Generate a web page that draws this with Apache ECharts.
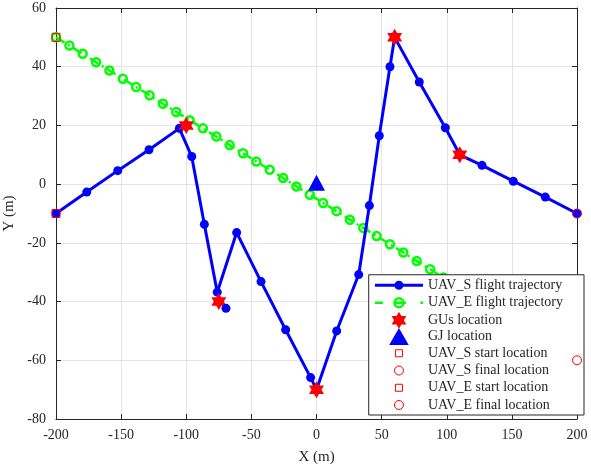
<!DOCTYPE html>
<html><head><meta charset="utf-8">
<script src="https://cdn.jsdelivr.net/npm/echarts@6/dist/echarts.min.js"></script>
<style>html,body{margin:0;padding:0;background:#fff}#c{width:591px;height:470px}</style>
</head><body><div id="c"></div>
<script>
// ---- data ----
const xRange = [-200, 200, 50];
const yRange = [-80, 60, 20];
const uavS = [[-200,-10],[-176.4,-2.7],[-152.6,4.6],[-128.6,11.7],[-105.3,19.0],[-95.8,9.4],
  [-86.1,-13.7],[-76.2,-36.8],[-61.3,-16.5],[-42.6,-33.2],[-23.7,-49.6],[-4.5,-65.9],[0,-70],
  [15.5,-50],[32.4,-30.8],[40.6,-7.3],[48.2,16.5],[56.4,40],[60,50],[78.9,34.8],[98.9,19.2],
  [110,10],[127.1,6.4],[151.1,1.0],[175.7,-4.4],[200,-10]];
const uavSExtra = [[-69.5,-42.3]];
const uavEX = [-200,-189.7,-179.5,-169.2,-159.0,-148.7,-138.5,-128.2,-117.9,-107.7,-97.4,-87.2,
  -76.9,-66.7,-56.4,-46.2,-35.9,-25.6,-15.4,-5.1,5.1,15.4,25.6,35.9,46.2,56.4,66.7,76.9,87.2,
  97.4,107.7,117.9,128.2,138.5,148.7,159.0,169.2,179.5,189.7,200];
const uavEY = [50,47.2,44.4,41.5,38.7,35.9,33.1,30.3,27.4,24.6,21.8,19.0,16.2,13.3,10.5,7.7,4.9,
  2.1,-0.8,-3.6,-6.4,-9.2,-12.1,-14.9,-17.7,-20.5,-23.3,-26.2,-29.0,-31.8,-34.6,-37.4,-40.3,
  -43.1,-45.9,-48.7,-51.5,-54.4,-57.2,-60];
const gus = [[-100,20],[-75,-40],[0,-70],[60,50],[110,10]];
const gj = [[0,0.5]];
const uavSStart = [[-200,-10]];
const uavSFinal = [[200,-10]];
const uavEStart = [[-200,50]];
const uavEFinal = [[200,-60]];
const names = ['UAV_S flight trajectory','UAV_E flight trajectory','GUs location','GJ location',
  'UAV_S start location','UAV_S final location','UAV_E start location','UAV_E final location'];

// ---- styling ----
const FONT = 'Liberation Serif';
const AX = '#262626';
const BLUE = '#0000ff', GREEN = '#00ff00', RED = '#ff0000', CLEAR = 'rgba(0,0,0,0)';
const hexagram = 'path://M0,-10 L2.887,-5 L8.66,-5 L5.774,0 L8.66,5 L2.887,5 L0,10 L-2.887,5 L-8.66,5 L-5.774,0 L-8.66,-5 L-2.887,-5 Z';
const iconBlue = 'path://M0,0 M48,17 M0,7 L48,7 L48,10 L0,10 Z M28.5,8.5 A4.5,4.5 0 1 1 19.5,8.5 A4.5,4.5 0 1 1 28.5,8.5 Z';
const iconGreen = 'path://M0,0 M48,17 M0,8.5 L8,8.5 M19,8.5 L31,8.5 M45.5,8.5 L48,8.5 M28.5,8.5 A4.5,4.5 0 1 1 19.5,8.5 A4.5,4.5 0 1 1 28.5,8.5';
const iconTri = 'path://M0,0 L9.5,16.5 L-9.5,16.5 Z';
const smallSquare = 'path://M0,0 M17,17 M5,5 L12,5 L12,12 L5,12 Z';
const smallCircle = 'path://M0,0 M17,17 M13,8.5 A4.5,4.5 0 1 1 4,8.5 A4.5,4.5 0 1 1 13,8.5 Z';
const uavE = uavEX.map((x, i) => [x, uavEY[i]]);

function xAxisCfg(pos, labels) {
  return {type:'value', position:pos, min:xRange[0], max:xRange[1], interval:xRange[2],
    axisLine:{onZero:false, lineStyle:{color:AX, width:1}},
    axisTick:{inside:true, length:5, lineStyle:{color:AX}},
    axisLabel:{show:labels, color:AX, fontFamily:FONT, fontSize:14, margin:9},
    splitLine:{show:labels, lineStyle:{color:'#e4e4e4', width:1}},
    name: labels ? 'X (m)' : '', nameLocation:'middle', nameGap:31,
    nameTextStyle:{color:AX, fontFamily:FONT, fontSize:15}};
}
function yAxisCfg(pos, labels) {
  return {type:'value', position:pos, min:yRange[0], max:yRange[1], interval:yRange[2],
    axisLine:{onZero:false, lineStyle:{color:AX, width:1}},
    axisTick:{inside:true, length:5, lineStyle:{color:AX}},
    axisLabel:{show:labels, color:AX, fontFamily:FONT, fontSize:14, margin:10},
    splitLine:{show:labels, lineStyle:{color:'#e4e4e4', width:1}},
    name: labels ? 'Y (m)' : '', nameLocation:'middle', nameGap:31, nameRotate:90,
    nameTextStyle:{color:AX, fontFamily:FONT, fontSize:15}};
}
function hollow(c, w) { return {color:CLEAR, borderColor:c, borderWidth:w, opacity:1}; }

const chart = echarts.init(document.getElementById('c'), null, {renderer:'canvas'});
chart.setOption({
  animation:false,
  backgroundColor:'#fff',
  grid:{left:56, right:14, top:8, bottom:51, containLabel:false, outerBoundsMode:'none'},
  xAxis:[xAxisCfg('bottom', true), xAxisCfg('top', false)],
  yAxis:[yAxisCfg('left', true), yAxisCfg('right', false)],
  legend:{
    orient:'vertical', right:7, bottom:55, itemWidth:48, itemHeight:17, itemGap:-0.75,
    padding:[2,21,1,5], backgroundColor:'#fff', borderColor:AX, borderWidth:1,
    textStyle:{color:AX, fontFamily:FONT, fontSize:14, lineHeight:17}, selectedMode:false,
    data:[
      {name:names[0], icon:iconBlue, itemStyle:{color:BLUE, borderWidth:0}},
      {name:names[1], icon:iconGreen, itemStyle:hollow(GREEN, 2.5)},
      {name:names[2], icon:hexagram, itemStyle:{color:RED, borderWidth:0}},
      {name:names[3], icon:iconTri, itemStyle:{color:BLUE, borderWidth:0}},
      {name:names[4], icon:smallSquare, itemStyle:hollow(RED, 1)},
      {name:names[5], icon:smallCircle, itemStyle:hollow(RED, 1)},
      {name:names[6], icon:smallSquare, itemStyle:hollow(RED, 1)},
      {name:names[7], icon:smallCircle, itemStyle:hollow(RED, 1)}
    ]
  },
  series:[
    {name:names[1], type:'line', data:uavE, z:2, symbol:'circle', symbolSize:8,
      lineStyle:{color:GREEN, width:2.5, type:[10,4,2,4]},
      itemStyle:hollow(GREEN, 2.5)},
    {name:names[0], type:'line', data:uavS, z:3, symbol:'circle', symbolSize:9,
      lineStyle:{color:BLUE, width:3}, itemStyle:{color:BLUE, opacity:1}},
    {name:'UAV_S extra', type:'scatter', data:uavSExtra, z:5, symbol:'circle', symbolSize:9,
      itemStyle:{color:BLUE, opacity:1}},
    {name:names[2], type:'scatter', data:gus, z:4, symbol:hexagram, symbolSize:[15,17],
      itemStyle:{color:RED, opacity:1}},
    {name:names[3], type:'scatter', data:gj, z:4, symbol:'triangle', symbolSize:[17,16],
      itemStyle:{color:BLUE, opacity:1}},
    {name:names[4], type:'scatter', data:uavSStart, z:6, symbol:'rect', symbolSize:8,
      itemStyle:hollow(RED, 1)},
    {name:names[5], type:'scatter', data:uavSFinal, z:6, symbol:'circle', symbolSize:9,
      itemStyle:hollow(RED, 1)},
    {name:names[6], type:'scatter', data:uavEStart, z:6, symbol:'rect', symbolSize:8,
      itemStyle:hollow(RED, 1)},
    {name:names[7], type:'scatter', data:uavEFinal, z:6, symbol:'circle', symbolSize:9,
      itemStyle:hollow(RED, 1)}
  ]
});
</script></body></html>
